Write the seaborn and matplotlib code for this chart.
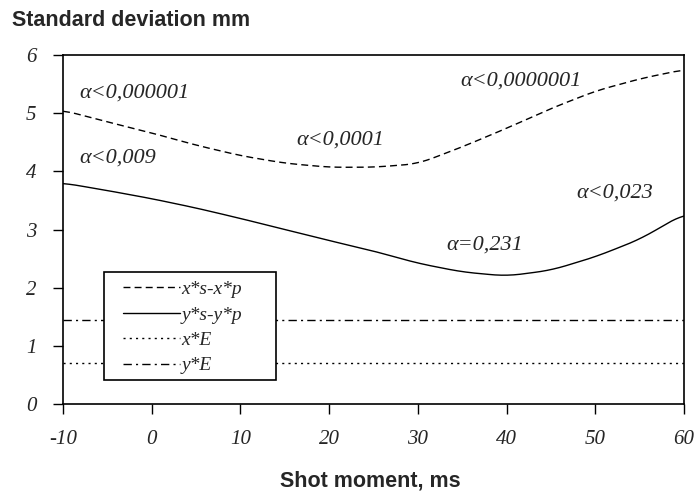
import numpy as np
import pandas as pd
import matplotlib
matplotlib.use("Agg")
import matplotlib.pyplot as plt
from matplotlib.patches import Rectangle
import seaborn as sns

# Shot moment (ms) and standard deviations
moment = [-10, -5, 0, 5, 10, 15, 20, 25, 30, 35, 40, 45, 50, 55, 60]
x_sp = [5.05, 4.85, 4.66, 4.45, 4.27, 4.14, 4.07, 4.07, 4.13, 4.42, 4.74, 5.08, 5.38, 5.59, 5.75]
y_sp = [3.80, 3.67, 3.53, 3.37, 3.19, 3.00, 2.81, 2.63, 2.42, 2.27, 2.20, 2.30, 2.53, 2.83, 3.27]
x_E = 0.71
y_E = 1.44

# significance labels: (text, x, y)
notes = [
    ("α<0,000001", -8.2, 5.35),
    ("α<0,009", -8.2, 4.22),
    ("α<0,0001", 16.3, 4.53),
    ("α<0,0000001", 34.8, 5.56),
    ("α<0,023", 47.9, 3.62),
    ("α=0,231", 33.2, 2.73),
]

sns.set_style("ticks")
plt.rcParams["font.family"] = ["Liberation Serif", "DejaVu Serif"]
plt.rcParams["axes.unicode_minus"] = False

fig = plt.figure(figsize=(6.94, 4.95), dpi=100)
ax = fig.add_axes([0.0908, 0.1838, 0.8948, 0.7051])

x_smooth = np.linspace(-10, 60, 300)
df = pd.DataFrame({
    "t": x_smooth,
    "xs": np.interp(x_smooth, moment, x_sp),
    "ys": np.interp(x_smooth, moment, y_sp),
})
# light smoothing of the piecewise reading
k = np.ones(15) / 15
for c in ["xs", "ys"]:
    pad = np.pad(df[c].values, 7, mode="edge")
    df[c] = np.convolve(pad, k, mode="valid")

sns.lineplot(data=df, x="t", y="xs", ax=ax, color="black", lw=1.0,
             linestyle=(0, (5, 3)), label="x*s-x*p")
sns.lineplot(data=df, x="t", y="ys", ax=ax, color="black", lw=1.0,
             linestyle="-", label="y*s-y*p")
sns.lineplot(x=[-10, 60], y=[x_E, x_E], ax=ax, color="black", lw=1.0,
             linestyle=(0, (1.5, 3)), label="x*E")
sns.lineplot(x=[-10, 60], y=[y_E, y_E], ax=ax, color="black", lw=1.0,
             linestyle=(0, (6, 3, 1.5, 3)), label="y*E")

for txt, tx, ty in notes:
    ax.text(tx, ty, txt, fontsize=16, style="italic", va="center", ha="left")

ax.set_xlim(-10, 60)
ax.set_ylim(0, 6)
ax.set_xticks(range(-10, 61, 10))
ax.set_yticks(range(0, 7))
ax.tick_params(direction="out", length=7, width=1, color="black", labelsize=15)
ax.tick_params(axis="x", pad=12)
ax.tick_params(axis="y", pad=12)
for lbl in ax.get_xticklabels() + ax.get_yticklabels():
    lbl.set_style("italic")
for s in ax.spines.values():
    s.set_color("black")
    s.set_linewidth(1.2)
ax.set_xlabel("")
ax.set_ylabel("")

# legend box drawn as an opaque frame, entries placed inside it
box = Rectangle((0.066, 0.069), 0.277, 0.31, transform=ax.transAxes,
                facecolor="white", edgecolor="black", lw=1.2, zorder=4)
ax.add_patch(box)
leg = ax.legend(loc="center left", bbox_to_anchor=(0.097, 0.219),
                fontsize=14, handlelength=2.9, frameon=False,
                borderpad=0, borderaxespad=0, labelspacing=0.4,
                handletextpad=0.1)
leg.set_zorder(5)
for t in leg.get_texts():
    t.set_style("italic")

fig.text(0.017, 0.958, "Standard deviation mm", fontsize=15.5, fontweight="bold",
         family=["Liberation Sans", "DejaVu Sans"], ha="left", va="center")
fig.text(0.533, 0.028, "Shot moment, ms", fontsize=15.5, fontweight="bold",
         family=["Liberation Sans", "DejaVu Sans"], ha="center", va="center")

fig.savefig("out.png", dpi=100)
